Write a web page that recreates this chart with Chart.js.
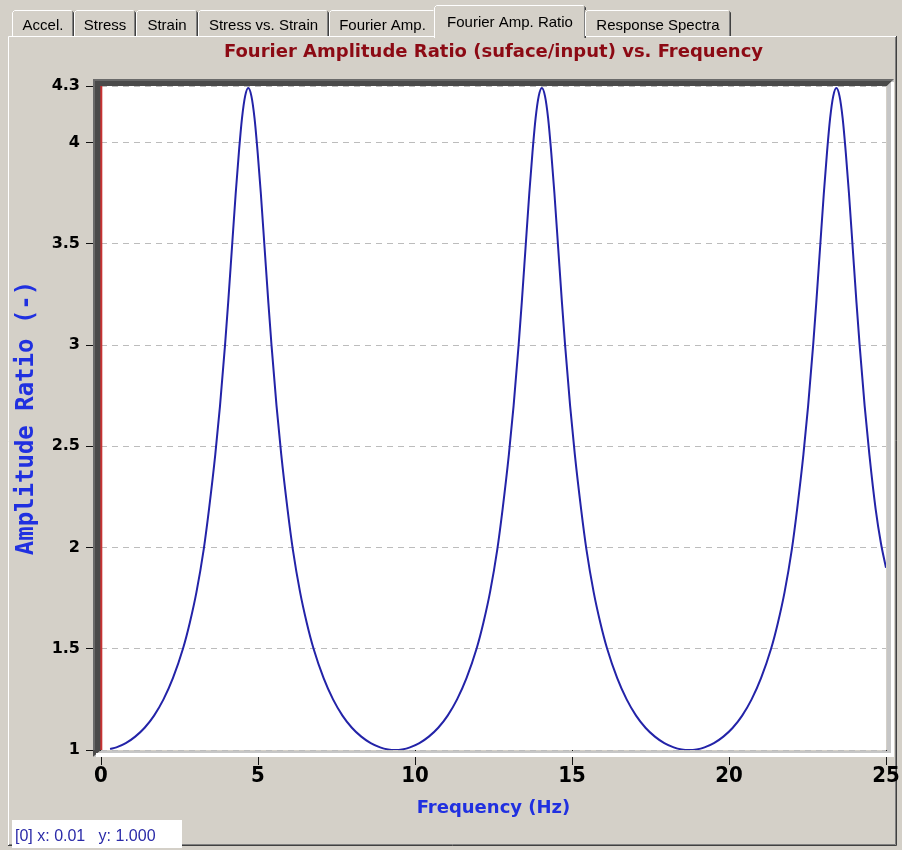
<!DOCTYPE html>
<html>
<head>
<meta charset="utf-8">
<title>Fourier Amplitude Ratio</title>
<script src="https://cdn.jsdelivr.net/npm/chart.js@4/dist/chart.umd.min.js"></script>
<style>
  html, body { margin: 0; padding: 0; background: #d4d0c8; }
  #wrap { width: 902px; height: 850px; }
</style>
</head>
<body>
<div id="wrap"><canvas id="ratio-chart" width="902" height="850"></canvas></div>
<script>
// Surface / input spectral ratio, three resonance lobes
const FREQ_HZ = [
  0.29, 0.49, 0.79, 1.09, 1.39, 1.69, 1.99, 2.29, 2.61, 2.83, 3.04, 3.27, 3.44, 3.64, 3.79, 3.95,
  4.05, 4.17, 4.29, 4.39, 4.49, 4.59, 4.69, 4.79, 4.89, 4.99, 5.09, 5.21, 5.33, 5.43, 5.59, 5.74,
  5.94, 6.11, 6.34, 6.55, 6.77, 7.09, 7.39, 7.69, 7.99, 8.29, 8.59, 8.89, 9.14, 9.37,
  9.59, 9.84, 10.14, 10.44, 10.74, 11.04, 11.34, 11.64, 11.96, 12.18, 12.39, 12.62, 12.79, 12.99,
  13.14, 13.30, 13.40, 13.52, 13.64, 13.74, 13.84, 13.94, 14.04, 14.14, 14.24, 14.34, 14.44, 14.56,
  14.68, 14.78, 14.94, 15.09, 15.29, 15.46, 15.69, 15.90, 16.12, 16.44, 16.74, 17.04, 17.34, 17.64,
  17.94, 18.24, 18.49, 18.72,
  18.97, 19.22, 19.52, 19.82, 20.12, 20.42, 20.72, 21.02, 21.34, 21.56, 21.77, 22.00, 22.17, 22.37,
  22.52, 22.68, 22.78, 22.90, 23.02, 23.12, 23.22, 23.32, 23.42, 23.52, 23.62, 23.72, 23.82, 23.94,
  24.06, 24.16, 24.32, 24.47, 24.67, 24.84, 25.00
];
const AMP_RATIO = [
  1.005, 1.013, 1.034, 1.066, 1.11, 1.17, 1.25, 1.355, 1.50, 1.63, 1.78, 1.99, 2.19, 2.46, 2.70, 3.00,
  3.21, 3.48, 3.75, 3.95, 4.12, 4.23, 4.27, 4.23, 4.12, 3.95, 3.75, 3.48, 3.21, 3.00, 2.70, 2.46,
  2.19, 1.99, 1.78, 1.63, 1.50, 1.355, 1.25, 1.17, 1.11, 1.066, 1.034, 1.013, 1.003, 1.000,
  1.003, 1.013, 1.034, 1.066, 1.11, 1.17, 1.25, 1.355, 1.50, 1.63, 1.78, 1.99, 2.19, 2.46,
  2.70, 3.00, 3.21, 3.48, 3.75, 3.95, 4.12, 4.23, 4.27, 4.23, 4.12, 3.95, 3.75, 3.48,
  3.21, 3.00, 2.70, 2.46, 2.19, 1.99, 1.78, 1.63, 1.50, 1.355, 1.25, 1.17, 1.11, 1.066,
  1.034, 1.013, 1.003, 1.000,
  1.003, 1.013, 1.034, 1.066, 1.11, 1.17, 1.25, 1.355, 1.50, 1.63, 1.78, 1.99, 2.19, 2.46,
  2.70, 3.00, 3.21, 3.48, 3.75, 3.95, 4.12, 4.23, 4.27, 4.23, 4.12, 3.95, 3.75, 3.48,
  3.21, 3.00, 2.70, 2.46, 2.19, 2.02, 1.90
];

const X_TICKS = [0, 5, 10, 15, 20, 25];
const Y_TICKS = [1, 1.5, 2, 2.5, 3, 3.5, 4, 4.28];
const Y_TICK_LABELS = ['1', '1.5', '2', '2.5', '3', '3.5', '4', '4.3'];

const TAB_LABELS = ['Accel.', 'Stress', 'Strain', 'Stress vs. Strain', 'Fourier Amp.', 'Fourier Amp. Ratio', 'Response Spectra'];
const TAB_EDGES = [12, 74, 136, 198, 329, 436, 585, 731];
const ACTIVE_TAB = 5;

const CURSOR = { index: 0, x: 0.01, y: 1.000 };

const BG = '#d4d0c8';

function drawTabs(ctx) {
  ctx.save();
  ctx.font = '15px "Liberation Sans", Arial, sans-serif';
  ctx.textAlign = 'center';
  ctx.textBaseline = 'alphabetic';
  TAB_LABELS.forEach((label, i) => {
    const active = i === ACTIVE_TAB;
    const x0 = TAB_EDGES[i] - (active ? 2 : 0);
    const x1 = TAB_EDGES[i + 1] + (active ? 1 : 0);
    const top = active ? 5 : 10;
    const bottom = active ? 38 : 36;
    ctx.fillStyle = BG;
    ctx.fillRect(x0, top, x1 - x0, bottom - top);
    // raised edges
    ctx.lineWidth = 1;
    ctx.strokeStyle = '#ffffff';
    ctx.beginPath();
    ctx.moveTo(x0 + 0.5, bottom);
    ctx.lineTo(x0 + 0.5, top + 2.5);
    ctx.lineTo(x0 + 2.5, top + 0.5);
    ctx.lineTo(x1 - 2.5, top + 0.5);
    ctx.stroke();
    ctx.strokeStyle = '#808080';
    ctx.beginPath();
    ctx.moveTo(x1 - 1.5, top + 2);
    ctx.lineTo(x1 - 1.5, bottom);
    ctx.stroke();
    ctx.strokeStyle = '#404040';
    ctx.beginPath();
    ctx.moveTo(x1 - 1.5, top + 1.5);
    ctx.lineTo(x1 - 0.5, top + 2.5);
    ctx.lineTo(x1 - 0.5, bottom);
    ctx.stroke();
    ctx.fillStyle = '#000000';
    ctx.fillText(label, (x0 + x1) / 2, active ? 27 : 30);
  });
  ctx.restore();
}

function drawPanel(ctx, w, h) {
  ctx.save();
  ctx.lineWidth = 1;
  ctx.strokeStyle = '#ffffff';
  ctx.beginPath();
  ctx.moveTo(8.5, h - 4);
  ctx.lineTo(8.5, 36.5);
  ctx.lineTo(TAB_EDGES[ACTIVE_TAB] - 2, 36.5);
  ctx.moveTo(TAB_EDGES[ACTIVE_TAB + 1] + 1, 36.5);
  ctx.lineTo(w - 5, 36.5);
  ctx.stroke();
  ctx.strokeStyle = '#808080';
  ctx.beginPath();
  ctx.moveTo(w - 6.5, 37);
  ctx.lineTo(w - 6.5, h - 5.5);
  ctx.lineTo(9, h - 5.5);
  ctx.stroke();
  ctx.strokeStyle = '#404040';
  ctx.beginPath();
  ctx.moveTo(w - 5.5, 36);
  ctx.lineTo(w - 5.5, h - 4.5);
  ctx.lineTo(8, h - 4.5);
  ctx.stroke();
  ctx.restore();
}

// sunken 3D frame around the plotting area
function drawFrame(ctx, a) {
  const t = 7;
  const L = a.left, T = a.top, R = a.right, B = a.bottom;
  ctx.save();
  ctx.fillStyle = '#4a4a4a';
  ctx.beginPath();
  ctx.moveTo(L - 8, T - t); ctx.lineTo(R + 8, T - t); ctx.lineTo(R + 1, T); ctx.lineTo(L, T);
  ctx.lineTo(L, B); ctx.lineTo(L - 8, B + t); ctx.closePath();
  ctx.fill();
  ctx.fillStyle = '#6a6a6a';
  ctx.fillRect(L - 8, T - t, R - L + 16, 2);
  ctx.fillRect(L - 8, T - t, 2, B - T + t);
  ctx.fillStyle = '#c6c6c6';
  ctx.beginPath();
  ctx.moveTo(R + 8, T - t); ctx.lineTo(R + 8, B + t); ctx.lineTo(L - 8, B + t);
  ctx.lineTo(L, B + 1); ctx.lineTo(R + 1, B + 1); ctx.lineTo(R + 1, T); ctx.closePath();
  ctx.fill();
  ctx.fillStyle = '#ffffff';
  ctx.fillRect(R + 5, T - t + 3, 3, B - T + t);
  ctx.fillRect(L - 5, B + 3, R - L + 13, 4);
  ctx.restore();
}

const chromePlugin = {
  id: 'chrome',
  beforeDraw(chart) {
    const { ctx, width, height, chartArea } = chart;
    ctx.save();
    ctx.fillStyle = BG;
    ctx.fillRect(0, 0, width, height);
    ctx.restore();
    drawPanel(ctx, width, height);
    drawTabs(ctx);
    ctx.save();
    ctx.fillStyle = '#ffffff';
    ctx.fillRect(chartArea.left, chartArea.top, chartArea.right - chartArea.left, chartArea.bottom - chartArea.top);
    ctx.restore();
  },
  afterDraw(chart) {
    const { ctx, chartArea, scales } = chart;
    drawFrame(ctx, chartArea);

    // cursor marker at the current read-out position
    const cx = scales.x.getPixelForValue(CURSOR.x);
    ctx.save();
    ctx.strokeStyle = '#c83232';
    ctx.lineWidth = 2;
    ctx.beginPath();
    ctx.moveTo(cx, chartArea.top);
    ctx.lineTo(cx, chartArea.bottom);
    ctx.stroke();

    // plot title
    ctx.fillStyle = '#8c0a14';
    ctx.font = 'bold 18px "DejaVu Sans", sans-serif';
    ctx.textAlign = 'center';
    ctx.textBaseline = 'alphabetic';
    ctx.fillText('Fourier Amplitude Ratio (suface/input) vs. Frequency', (chartArea.left + chartArea.right) / 2, 57);

    // read-out box
    ctx.fillStyle = '#ffffff';
    ctx.fillRect(12, 820, 170, 28);
    ctx.fillStyle = '#2a2aa8';
    ctx.font = '16px "Liberation Sans", Arial, sans-serif';
    ctx.textAlign = 'left';
    ctx.fillText('[' + CURSOR.index + '] x: ' + CURSOR.x.toFixed(2) + '   y: ' + CURSOR.y.toFixed(3), 15, 841);
    ctx.restore();
  }
};

new Chart(document.getElementById('ratio-chart'), {
  type: 'line',
  data: {
    datasets: [{
      label: 'Amplitude Ratio',
      data: FREQ_HZ.map((f, i) => ({ x: f, y: AMP_RATIO[i] })),
      borderColor: '#2323a8',
      borderWidth: 2,
      pointRadius: 0,
      fill: false,
      cubicInterpolationMode: 'monotone'
    }]
  },
  options: {
    responsive: false,
    animation: false,
    devicePixelRatio: 1,
    layout: { padding: { left: 0, top: 86, right: 16, bottom: 0 } },
    plugins: {
      legend: { display: false },
      tooltip: { enabled: false }
    },
    scales: {
      x: {
        type: 'linear',
        min: 0,
        max: 25,
        afterFit: (s) => { s.height = 100; },
        afterBuildTicks: (s) => { s.ticks = X_TICKS.map(v => ({ value: v })); },
        ticks: {
          color: '#000000',
          font: { family: '"Liberation Sans Narrow", "DejaVu Sans Condensed", sans-serif', size: 22, weight: 'bold', lineHeight: 1 },
          padding: 0,
          maxRotation: 0,
          autoSkip: false
        },
        grid: { drawOnChartArea: false, drawTicks: true, tickLength: 15, tickColor: '#111111', tickWidth: 1 },
        border: { display: false },
        title: {
          display: true,
          text: 'Frequency (Hz)',
          color: '#2030e0',
          font: { family: '"DejaVu Sans", sans-serif', size: 18, weight: 'bold' },
          padding: { top: 0, bottom: 31 }
        }
      },
      y: {
        type: 'linear',
        min: 1,
        max: 4.28,
        afterFit: (s) => { s.width = 101; },
        afterBuildTicks: (s) => { s.ticks = Y_TICKS.map(v => ({ value: v })); },
        ticks: {
          color: '#000000',
          callback: (v, i) => Y_TICK_LABELS[i],
          font: { family: '"DejaVu Sans", sans-serif', size: 16, weight: 'bold' },
          padding: 6,
          autoSkip: false
        },
        grid: { color: '#bcbcbc', lineWidth: 1, drawTicks: true, tickLength: 15, tickColor: '#111111', tickWidth: 1 },
        border: { display: false, dash: [6, 5] },
        title: {
          display: true,
          text: 'Amplitude Ratio (-)',
          color: '#2030e0',
          font: { family: '"DejaVu Sans Mono", monospace', size: 24, weight: 'bold' },
          padding: { top: 12.6, bottom: 0 }
        }
      }
    }
  },
  plugins: [chromePlugin]
});
</script>
</body>
</html>
